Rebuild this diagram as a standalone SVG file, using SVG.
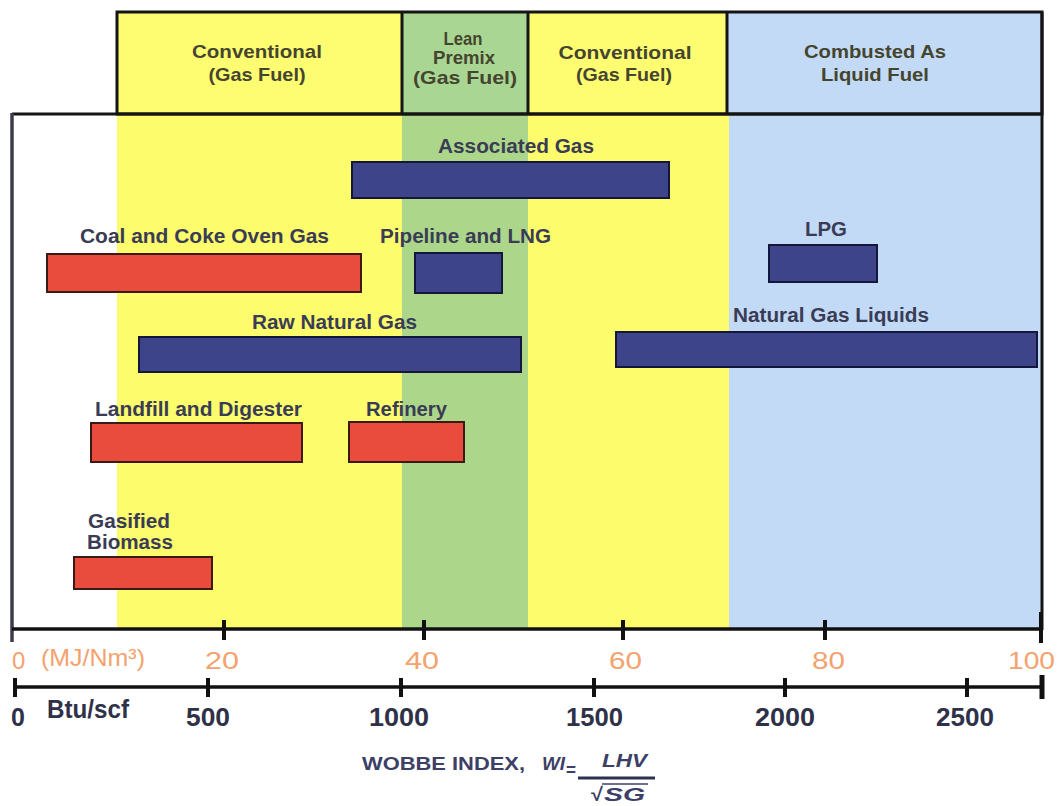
<svg xmlns="http://www.w3.org/2000/svg" width="1057" height="806" viewBox="0 0 1057 806">
<style>
  .lbl { font-family: "Liberation Sans", Arial, sans-serif; font-weight: bold; font-size: 20px; fill: #3a3c55; }
  .hdr { font-family: "Liberation Sans", Arial, sans-serif; font-weight: bold; font-size: 19px; fill: #45452f; text-anchor: middle; }
  .org { font-family: "Liberation Sans", Arial, sans-serif; font-size: 24px; fill: #f4a26e; }
  .num { font-family: "Liberation Sans", Arial, sans-serif; font-weight: bold; font-size: 25px; fill: #2e3148; }
  .frame { stroke: #151515; stroke-width: 3; fill: none; }
  .red { fill: #e94b3d; stroke: #3a1a14; stroke-width: 2; }
  .blue { fill: #3e4489; stroke: #15173a; stroke-width: 2; }
  .ax { stroke: #111; stroke-width: 3.5; fill: none; }
  .tk { stroke: #111; stroke-width: 4; fill: none; }
  .wob { font-family: "Liberation Sans", Arial, sans-serif; font-weight: bold; font-size: 19px; fill: #3d3f66; }
</style>
<rect width="1057" height="806" fill="#ffffff"/>

<!-- body background bands -->
<g id="bands">
  <rect x="117" y="114" width="285" height="514" fill="#fdfc6c"/>
  <rect x="402" y="114" width="126" height="514" fill="#acd68a"/>
  <rect x="528" y="114" width="201" height="514" fill="#fdfc6c"/>
  <rect x="729" y="114" width="313" height="514" fill="#c3daf6"/>
</g>

<!-- header -->
<g id="header">
  <rect x="117" y="12" width="285" height="102" fill="#fefd72"/>
  <rect x="402" y="12" width="126" height="102" fill="#a9d693"/>
  <rect x="528" y="12" width="199" height="102" fill="#fefd72"/>
  <rect x="727" y="12" width="315" height="102" fill="#c3daf6"/>
  <rect class="frame" x="117" y="12" width="925" height="102"/>
  <line class="frame" x1="402" y1="12" x2="402" y2="114"/>
  <line class="frame" x1="528" y1="12" x2="528" y2="114"/>
  <line class="frame" x1="727" y1="12" x2="727" y2="114"/>
  <g id="hdr-conv1">
    <text class="hdr" x="257" y="58" textLength="130" lengthAdjust="spacingAndGlyphs">Conventional</text>
    <text class="hdr" x="257" y="81" textLength="97" lengthAdjust="spacingAndGlyphs">(Gas Fuel)</text>
  </g>
  <g id="hdr-lean">
    <text class="hdr" x="463" y="45" font-size="16" textLength="39" lengthAdjust="spacingAndGlyphs">Lean</text>
    <text class="hdr" x="464" y="64" font-size="16" textLength="62" lengthAdjust="spacingAndGlyphs">Premix</text>
    <text class="hdr" x="465" y="84" font-size="16" textLength="104" lengthAdjust="spacingAndGlyphs" font-weight="normal">(Gas Fuel)</text>
  </g>
  <g id="hdr-conv2">
    <text class="hdr" x="625" y="59" textLength="133" lengthAdjust="spacingAndGlyphs">Conventional</text>
    <text class="hdr" x="624" y="81" textLength="96" lengthAdjust="spacingAndGlyphs">(Gas Fuel)</text>
  </g>
  <g id="hdr-liquid">
    <text class="hdr" x="875" y="58" textLength="142" lengthAdjust="spacingAndGlyphs" fill="#2a2a38">Combusted As</text>
    <text class="hdr" x="875" y="81" textLength="108" lengthAdjust="spacingAndGlyphs" fill="#3e3e50">Liquid Fuel</text>
  </g>
</g>

<!-- frame of plot -->
<g id="plot-frame">
  <line class="frame" x1="12" y1="114" x2="1042" y2="114"/>
  <line x1="12" y1="113" x2="12" y2="642" stroke="#3c3c48" stroke-width="3.5"/>
  <line class="frame" x1="1042" y1="12" x2="1042" y2="630"/>
</g>

<!-- bars -->
<g id="associated-gas">
  <rect class="blue" x="352" y="162" width="317" height="36"/>
  <text class="lbl" x="438" y="153" textLength="156" lengthAdjust="spacingAndGlyphs" fill="#262630">Associated Gas</text>
</g>
<g id="coal-coke">
  <rect class="red" x="47" y="254" width="314" height="38"/>
  <text class="lbl" x="80" y="243" textLength="249" lengthAdjust="spacingAndGlyphs">Coal and Coke Oven Gas</text>
</g>
<g id="pipeline-lng">
  <rect class="blue" x="415" y="253" width="87" height="40"/>
  <text class="lbl" x="380" y="243" textLength="171" lengthAdjust="spacingAndGlyphs">Pipeline and LNG</text>
</g>
<g id="lpg">
  <rect class="blue" x="769" y="245" width="108" height="37"/>
  <text class="lbl" x="805" y="236" textLength="42" lengthAdjust="spacingAndGlyphs">LPG</text>
</g>
<g id="raw-natural-gas">
  <rect class="blue" x="139" y="337" width="382" height="35"/>
  <text class="lbl" x="252" y="329" textLength="165" lengthAdjust="spacingAndGlyphs">Raw Natural Gas</text>
</g>
<g id="natural-gas-liquids">
  <rect class="blue" x="616" y="332" width="421" height="35"/>
  <text class="lbl" x="733" y="322" textLength="196" lengthAdjust="spacingAndGlyphs">Natural Gas Liquids</text>
</g>
<g id="landfill-digester">
  <rect class="red" x="91" y="423" width="211" height="39"/>
  <text class="lbl" x="95" y="416" textLength="207" lengthAdjust="spacingAndGlyphs">Landfill and Digester</text>
</g>
<g id="refinery">
  <rect class="red" x="349" y="422" width="115" height="40"/>
  <text class="lbl" x="366" y="416" textLength="81" lengthAdjust="spacingAndGlyphs">Refinery</text>
</g>
<g id="gasified-biomass">
  <rect class="red" x="74" y="557" width="138" height="32"/>
  <text class="lbl" x="88" y="528" textLength="82" lengthAdjust="spacingAndGlyphs">Gasified</text>
  <text class="lbl" x="87" y="549" textLength="86" lengthAdjust="spacingAndGlyphs">Biomass</text>
</g>

<!-- MJ axis -->
<g id="axis-mj">
  <line class="ax" x1="12" y1="629" x2="1042" y2="629"/>
  <line class="tk" x1="224" y1="620" x2="224" y2="640"/>
  <line class="tk" x1="424" y1="620" x2="424" y2="640"/>
  <line class="tk" x1="623" y1="620" x2="623" y2="640"/>
  <line class="tk" x1="825" y1="620" x2="825" y2="640"/>
  <line class="tk" x1="1041" y1="612" x2="1041" y2="643"/>
  <text class="org" x="12" y="669">0</text>
  <text class="org" x="41" y="666" font-size="19" textLength="104" lengthAdjust="spacingAndGlyphs">(MJ/Nm³)</text>
  <text class="org" x="205" y="669" textLength="34" lengthAdjust="spacingAndGlyphs">20</text>
  <text class="org" x="405" y="669" textLength="34" lengthAdjust="spacingAndGlyphs">40</text>
  <text class="org" x="609" y="669" textLength="33" lengthAdjust="spacingAndGlyphs">60</text>
  <text class="org" x="812" y="669" textLength="33" lengthAdjust="spacingAndGlyphs">80</text>
  <text class="org" x="1008" y="669" textLength="47" lengthAdjust="spacingAndGlyphs">100</text>
</g>

<!-- Btu axis -->
<g id="axis-btu">
  <line class="ax" x1="15" y1="687" x2="1042" y2="687"/>
  <line class="tk" x1="15" y1="678" x2="15" y2="697"/>
  <line class="tk" x1="208" y1="678" x2="208" y2="697"/>
  <line class="tk" x1="401" y1="678" x2="401" y2="697"/>
  <line class="tk" x1="594" y1="678" x2="594" y2="697"/>
  <line class="tk" x1="785" y1="678" x2="785" y2="697"/>
  <line class="tk" x1="967" y1="678" x2="967" y2="697"/>
  <line x1="1042" y1="675" x2="1042" y2="699" stroke="#111" stroke-width="5"/>
  <text class="num" x="11" y="726">0</text>
  <text class="num" x="47" y="718" font-size="20" textLength="82" lengthAdjust="spacingAndGlyphs">Btu/scf</text>
  <text class="num" x="186" y="726" textLength="44" lengthAdjust="spacingAndGlyphs">500</text>
  <text class="num" x="369" y="726" textLength="60" lengthAdjust="spacingAndGlyphs">1000</text>
  <text class="num" x="566" y="726" textLength="57" lengthAdjust="spacingAndGlyphs">1500</text>
  <text class="num" x="755" y="726" textLength="60" lengthAdjust="spacingAndGlyphs">2000</text>
  <text class="num" x="936" y="726" textLength="58" lengthAdjust="spacingAndGlyphs">2500</text>
</g>

<!-- Wobbe index formula -->
<g id="wobbe-formula">
  <text class="wob" x="362" y="770" textLength="163" lengthAdjust="spacingAndGlyphs">WOBBE INDEX,</text>
  <text class="wob" x="542" y="770" font-style="italic" textLength="23" lengthAdjust="spacingAndGlyphs">WI</text>
  <text class="wob" x="566" y="776" textLength="10" lengthAdjust="spacingAndGlyphs">=</text>
  <text class="wob" x="602" y="767" font-style="italic" textLength="45" lengthAdjust="spacingAndGlyphs">LHV</text>
  <line x1="578" y1="778" x2="655" y2="778" stroke="#2e3050" stroke-width="3"/>
  <text class="wob" x="591" y="801" font-size="22" textLength="12" lengthAdjust="spacingAndGlyphs">√</text>
  <line x1="602" y1="784" x2="648" y2="784" stroke="#3d3f66" stroke-width="1.5"/>
  <text class="wob" x="604" y="801" font-style="italic" textLength="41" lengthAdjust="spacingAndGlyphs">SG</text>
</g>
</svg>
